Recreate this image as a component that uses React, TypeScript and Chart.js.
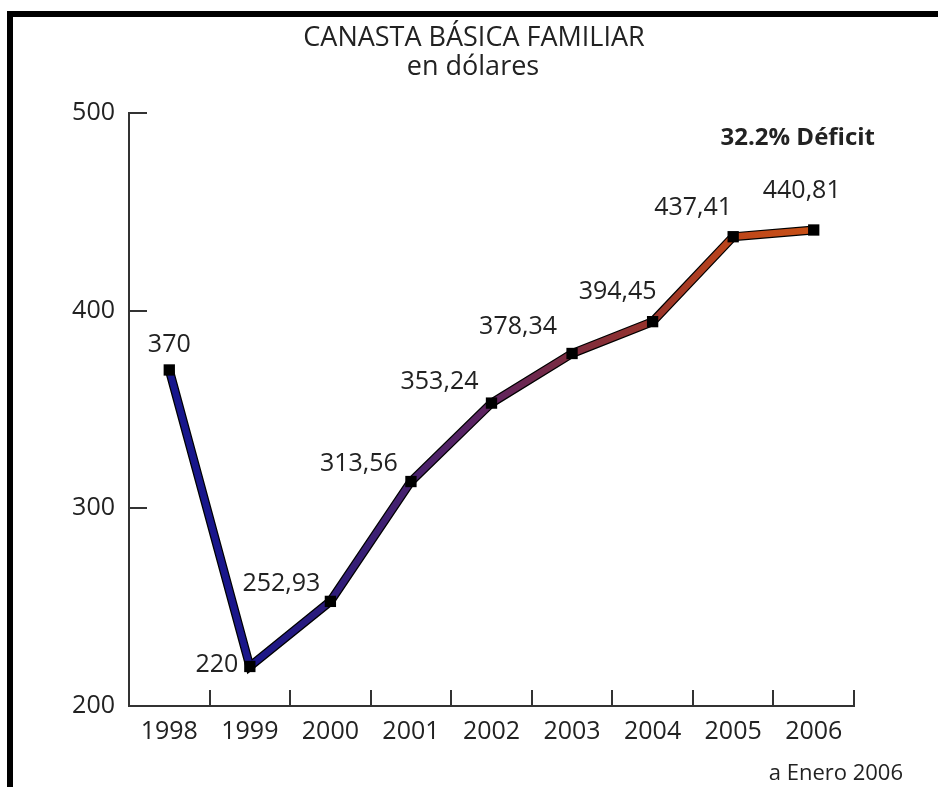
import React, { useEffect, useRef } from "react";
import { Chart, registerables } from "chart.js";

Chart.register(...registerables);

const YEARS = ["1998", "1999", "2000", "2001", "2002", "2003", "2004", "2005", "2006"];
const VALUES = [370, 220, 252.93, 313.56, 353.24, 378.34, 394.45, 437.41, 440.81];
const VALUE_LABELS = ["370", "220", "252,93", "313,56", "353,24", "378,34", "394,45", "437,41", "440,81"];
const Y_MIN = 200;
const Y_MAX = 500;
const Y_STEP = 100;
const TITLE = "CANASTA BÁSICA FAMILIAR";
const SUBTITLE = "en dólares";
const NOTE = "32.2% Déficit";
const SOURCE = "a Enero 2006";

// label placement relative to each point (layout only)
const LABEL_OFFSETS: [number, number][] = [
  [0, -25], [-33, -2], [-49, -18], [-52, -18], [-52, -21], [-54, -27], [-35, -30], [-40, -29], [-12, -39],
];
const GRADIENT_STOPS: [number, string][] = [
  [0, "rgb(22,22,140)"],
  [0.125, "rgb(26,22,138)"],
  [0.25, "rgb(45,28,122)"],
  [0.375, "rgb(72,34,110)"],
  [0.5, "rgb(95,36,95)"],
  [0.625, "rgb(125,44,62)"],
  [0.75, "rgb(152,52,44)"],
  [0.875, "rgb(190,70,26)"],
  [1, "rgb(200,80,22)"],
];

const FONT = "'Open Sans', 'Noto Sans', sans-serif";
const TEXT = "#222";

const decorPlugin = {
  id: "decor",
  afterDraw(chart: any) {
    const ctx = chart.ctx;
    const xs = chart.scales.x;
    const ys = chart.scales.y;
    const area = chart.chartArea;
    ctx.save();
    ctx.strokeStyle = "#333";
    ctx.lineWidth = 2;
    // y ticks pointing inward
    ys.ticks.forEach((t: any) => {
      const y = Math.round(ys.getPixelForValue(t.value));
      ctx.beginPath();
      ctx.moveTo(area.left, y);
      ctx.lineTo(area.left + 18, y);
      ctx.stroke();
    });
    // x ticks at category boundaries, pointing up
    const half = (xs.getPixelForValue(1) - xs.getPixelForValue(0)) / 2;
    for (let i = 0; i < YEARS.length; i++) {
      const x = Math.round(xs.getPixelForValue(i) + half);
      ctx.beginPath();
      ctx.moveTo(x, area.bottom);
      ctx.lineTo(x, area.bottom - 16);
      ctx.stroke();
    }
    // value labels
    const meta = chart.getDatasetMeta(0);
    ctx.fillStyle = TEXT;
    ctx.font = `25px ${FONT}`;
    ctx.textAlign = "center";
    ctx.textBaseline = "middle";
    meta.data.forEach((p: any, i: number) => {
      const [dx, dy] = LABEL_OFFSETS[i];
      ctx.fillText(VALUE_LABELS[i], p.x + dx, p.y + dy);
    });
    // titles
    ctx.textBaseline = "alphabetic";
    ctx.font = `27px ${FONT}`;
    ctx.fillText(TITLE, 474, 46);
    ctx.fillText(SUBTITLE, 473, 75);
    ctx.font = `bold 24px ${FONT}`;
    ctx.textAlign = "right";
    ctx.fillText(NOTE, 875, 145);
    ctx.font = `22px ${FONT}`;
    ctx.fillText(SOURCE, 903, 780);
    ctx.restore();
  },
};

export default function App() {
  const ref = useRef<HTMLCanvasElement | null>(null);
  useEffect(() => {
    if (!ref.current) return;
    const gradientColor = (c: any) => {
      const chart = c.chart;
      const area = chart.chartArea;
      if (!area) return GRADIENT_STOPS[0][1];
      const xs = chart.scales.x;
      const x0 = xs.getPixelForValue(0);
      const x1 = xs.getPixelForValue(YEARS.length - 1);
      const g = chart.ctx.createLinearGradient(x0, 0, x1, 0);
      GRADIENT_STOPS.forEach(([s, col]) => g.addColorStop(s, col));
      return g;
    };
    const chart = new Chart(ref.current, {
      type: "line",
      data: {
        labels: YEARS,
        datasets: [
          {
            data: VALUES,
            borderColor: gradientColor,
            borderWidth: 6.5,
            pointStyle: "rect",
            pointRadius: 8,
            pointBackgroundColor: "#000",
            pointBorderColor: "#000",
            pointBorderWidth: 0,
            tension: 0,
            fill: false,
          },
          {
            data: VALUES,
            borderColor: "#000",
            borderWidth: 9,
            pointRadius: 0,
            tension: 0,
            fill: false,
          },
        ],
      },
      options: {
        responsive: false,
        animation: false,
        layout: { padding: { top: 113, right: 84, left: 0, bottom: 0 } },
        plugins: { legend: { display: false }, tooltip: { enabled: false }, title: { display: false } },
        scales: {
          x: {
            offset: true,
            grid: { display: false, drawTicks: false },
            border: { display: true, color: "#333", width: 2 },
            ticks: { color: TEXT, font: { family: FONT, size: 25 }, padding: 11, maxRotation: 0, autoSkip: false },
            afterFit: (s: any) => { s.height = 81; },
          },
          y: {
            min: Y_MIN,
            max: Y_MAX,
            grid: { display: false, drawTicks: false },
            border: { display: true, color: "#333", width: 2 },
            ticks: { stepSize: Y_STEP, color: TEXT, font: { family: FONT, size: 25 }, padding: 14 },
            afterFit: (s: any) => { s.width = 129; },
          },
        },
      },
      plugins: [decorPlugin],
    });
    return () => chart.destroy();
  }, []);
  return (
    <div style={{ position: "fixed", left: 0, top: 0, width: 938, height: 787, background: "#fff", overflow: "hidden" }}>
      <div style={{ position: "absolute", left: 7, top: 11, width: 1000, height: 900, borderTop: "6px solid #000", borderLeft: "6px solid #000" }} />
      <canvas ref={ref} width={938} height={787} style={{ position: "absolute", left: 0, top: 0, width: 938, height: 787 }} />
    </div>
  );
}
